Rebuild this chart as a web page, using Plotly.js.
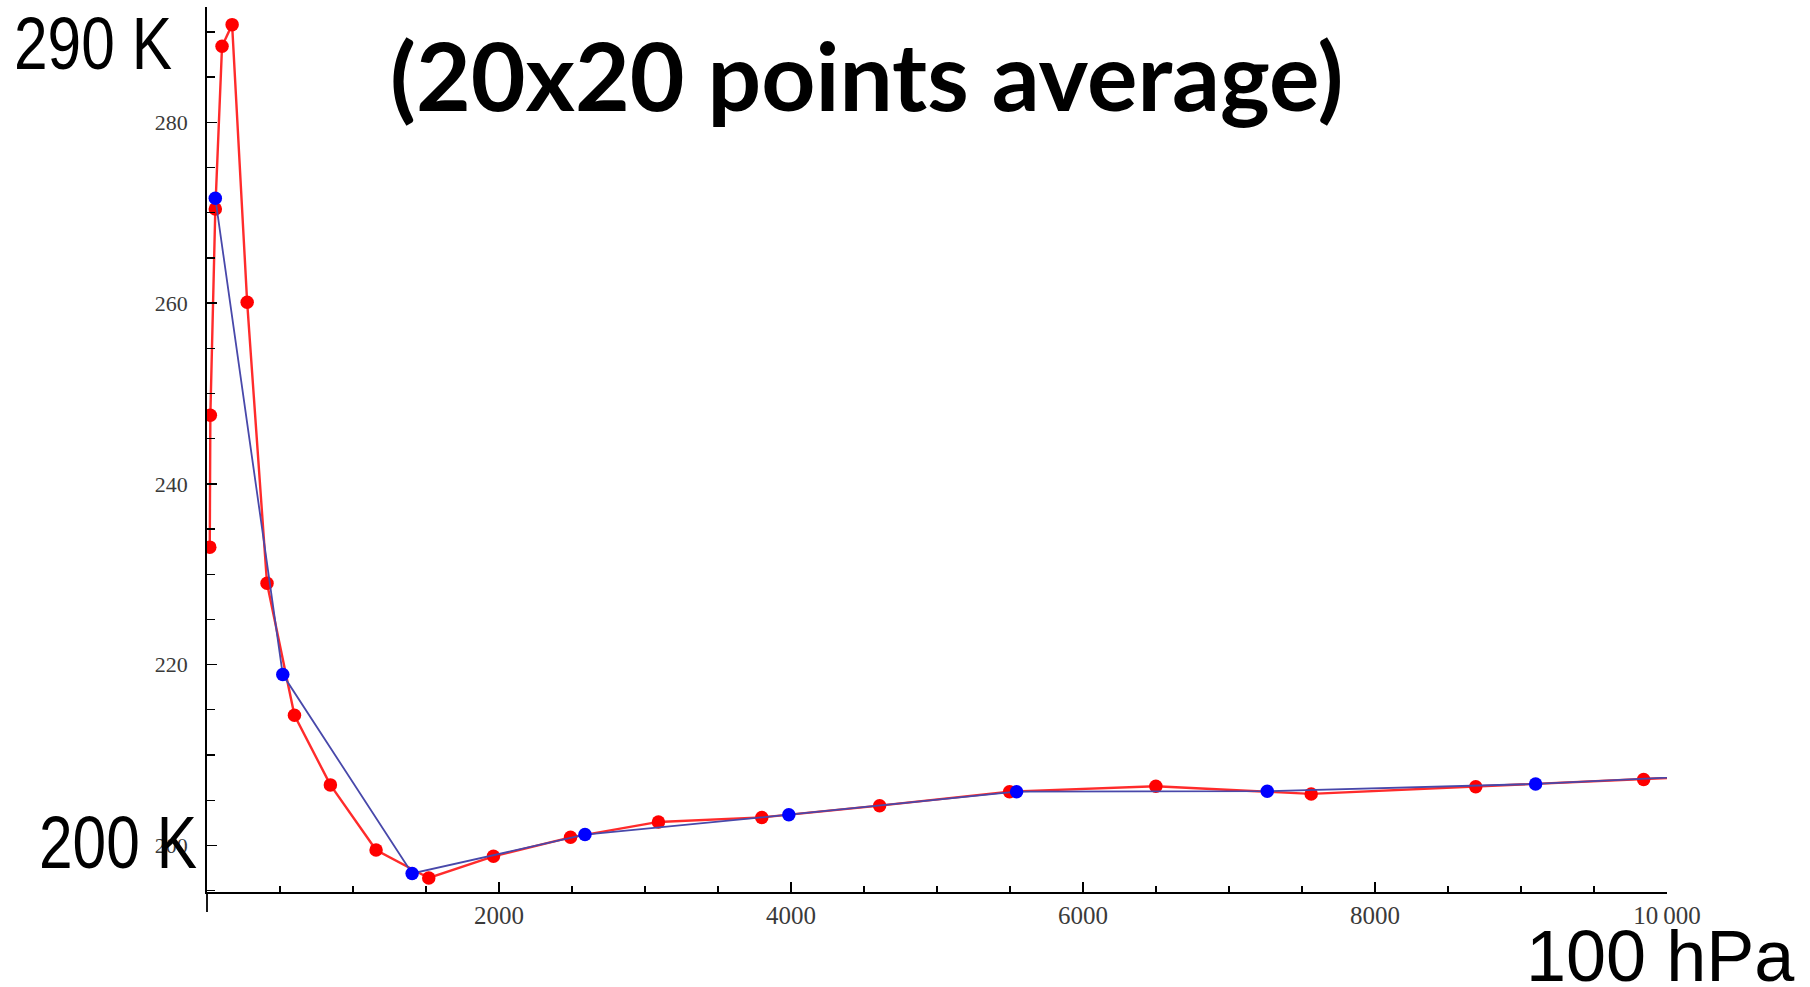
<!DOCTYPE html>
<html>
<head>
<meta charset="utf-8">
<script src="https://cdn.plot.ly/plotly-3.0.1.min.js"></script>
<style>html,body{margin:0;padding:0;background:#fff;}#chart{width:1810px;height:987px;}</style>
</head>
<body>
<div id="chart"></div>
<script>
// Data (x in Pa, y in K)
const redPressure = [19, 23, 57, 103, 172, 275, 411, 599, 845, 1158, 1519, 1962, 2490, 3092, 3800, 4607, 5497, 6499, 7563, 8690, 9840, 10400];
const redTemp     = [233.0, 247.6, 270.4, 288.4, 290.8, 260.1, 229.0, 214.4, 206.7, 199.5, 196.4, 198.8, 200.9, 202.6, 203.1, 204.4, 205.95, 206.55, 205.7, 206.5, 207.3, 207.75];
const bluePressure = [57, 519, 1405, 2589, 3985, 5545, 7262, 9100, 10400];
const blueTemp     = [271.6, 218.9, 196.9, 201.2, 203.4, 205.95, 206.0, 206.8, 207.8];
const xTickVals  = [2000, 4000, 6000, 8000, 10000];
const xTickText  = ["2000", "4000", "6000", "8000", "10\u2009000"];
const yTickVals  = [200, 220, 240, 260, 280];
const yTickText  = ["200", "220", "240", "260", "280"];

// layout geometry (pixels)
const W = 1810, H = 987;
const L = 207, R = 1666.6, T = 7.3, B = 892;
const px = X => (X - L) / (R - L);
const py = Y => (B - Y) / (B - T);

const traces = [
  {
    x: redPressure, y: redTemp, type: 'scatter', mode: 'lines+markers',
    line: {color: 'rgba(255,20,20,0.9)', width: 2.4},
    marker: {color: 'rgb(255,0,0)', size: 13.5},
    cliponaxis: true, hoverinfo: 'x+y'
  },
  {
    x: bluePressure, y: blueTemp, type: 'scatter', mode: 'lines+markers',
    line: {color: 'rgb(72,72,170)', width: 1.8},
    marker: {color: 'rgb(0,0,255)', size: 13.5},
    cliponaxis: true, hoverinfo: 'x+y'
  }
];

const tickFontX = {family: 'Liberation Serif, DejaVu Serif, serif', size: 25, color: '#3a3a3a'};
const tickFontY = {family: 'Liberation Serif, DejaVu Serif, serif', size: 22, color: '#3a3a3a'};
const bigFont = {family: 'Liberation Sans, Arial, sans-serif', size: 75, color: '#000'};

const layout = {
  width: W, height: H,
  margin: {l: L, r: W - R, t: T, b: H - B, pad: 0},
  paper_bgcolor: '#fff', plot_bgcolor: '#fff',
  showlegend: false,
  xaxis: {
    range: [0, 10000], autorange: false,
    showgrid: false, zeroline: false,
    showline: true, linecolor: '#000', linewidth: 1.8,
    ticks: 'inside', ticklen: 10, tickwidth: 1.5, tickcolor: '#000',
    tickvals: xTickVals, ticktext: xTickText,
    tickfont: tickFontX, ticklabelstandoff: 0,
    minor: {dtick: 500, ticks: 'inside', ticklen: 6, tickwidth: 1.3, tickcolor: '#000', showgrid: false}
  },
  yaxis: {
    range: [194.85, 292.75], autorange: false,
    showgrid: false, zeroline: false,
    showline: true, linecolor: '#000', linewidth: 1.8,
    ticks: 'inside', ticklen: 10, tickwidth: 1.5, tickcolor: '#000',
    tickvals: yTickVals, ticktext: yTickText,
    tickfont: tickFontY, ticklabelstandoff: 13,
    minor: {tick0: 195, dtick: 5, ticks: 'inside', ticklen: 8, tickwidth: 1.3, tickcolor: '#000', showgrid: false}
  },
  shapes: [
    {type: 'line', xref: 'paper', yref: 'paper', x0: 0, x1: 0, y0: 0, y1: py(912),
     line: {color: '#000', width: 1.8}}
  ],
  annotations: [
    {text: '290 K', xref: 'paper', yref: 'paper', x: px(93.5), y: py(43), xanchor: 'center', yanchor: 'middle',
     showarrow: false, font: bigFont},
    {text: '200 K', xref: 'paper', yref: 'paper', x: px(118.5), y: py(842.5), xanchor: 'center', yanchor: 'middle',
     showarrow: false, font: bigFont},
    {text: '100 hPa', xref: 'paper', yref: 'paper', x: px(1524), y: py(956), xanchor: 'left', yanchor: 'middle',
     showarrow: false, font: {family: 'Liberation Sans, Arial, sans-serif', size: 72, color: '#000'}},
    {text: '<b>(20x20 points average)</b>', xref: 'paper', yref: 'paper', x: px(388), y: py(75), xanchor: 'left', yanchor: 'middle',
     showarrow: false, font: {family: 'Comic Sans MS, Lato, sans-serif', size: 94.5, color: '#000'}}
  ]
};

Plotly.newPlot('chart', traces, layout, {displayModeBar: false, staticPlot: true}).then(gd => {
  // the "290 K" / "200 K" labels are condensed in the reference
  gd.querySelectorAll('.annotation-text').forEach(t => {
    const s = t.textContent.trim();
    if (s === '290 K' || s === '200 K') {
      t.setAttribute('textLength', '158');
      t.setAttribute('lengthAdjust', 'spacingAndGlyphs');
    }
  });
});
</script>
</body>
</html>
